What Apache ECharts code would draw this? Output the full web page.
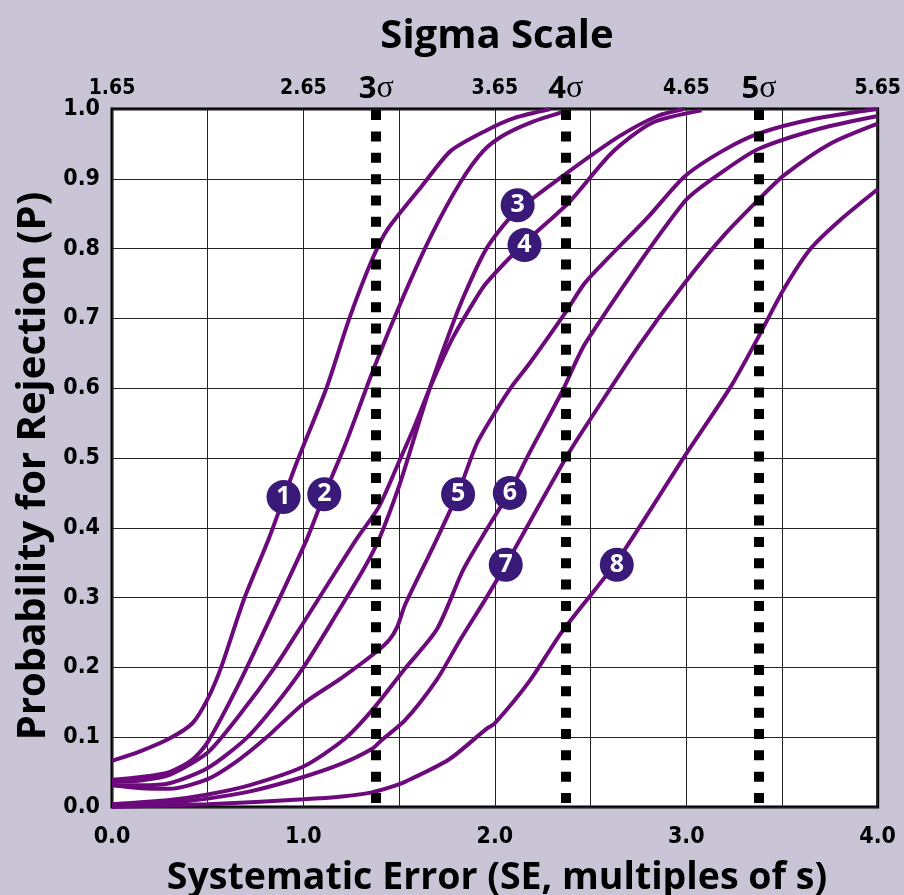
<!DOCTYPE html>
<html><head><meta charset="utf-8">
<script src="https://cdn.jsdelivr.net/npm/echarts@6/dist/echarts.min.js"></script>
<style>html,body{margin:0;padding:0;background:#c9c5d7;}#c{width:904px;height:895px;}</style>
</head><body><div id="c"></div>
<script>
// ---- data ----
const curve1 = [[0,0.066],[0.15,0.08],[0.3,0.098],[0.42,0.12],[0.5,0.155],[0.57,0.2],[0.69,0.298],[0.82,0.385],[0.96,0.49],[1.12,0.60],[1.24,0.70],[1.36,0.785],[1.44,0.828],[1.62,0.89],[1.77,0.94],[1.96,0.97],[2.1,0.987],[2.29,1.0]];
const curve2 = [[0,0.039],[0.15,0.043],[0.3,0.05],[0.42,0.068],[0.5,0.093],[0.664,0.177],[0.87,0.296],[1.017,0.383],[1.11,0.448],[1.22,0.52],[1.37,0.63],[1.52,0.73],[1.67,0.82],[1.82,0.895],[1.94,0.94],[2.05,0.963],[2.2,0.982],[2.37,0.997]];
const curve3 = [[0,0.031],[0.15,0.031],[0.3,0.034],[0.5,0.056],[0.7,0.098],[0.85,0.145],[1.0,0.2],[1.17,0.275],[1.317,0.342],[1.397,0.385],[1.5,0.46],[1.58,0.53],[1.66,0.60],[1.75,0.67],[1.835,0.73],[1.956,0.80],[2.1,0.85],[2.37,0.907],[2.645,0.96],[2.85,0.99],[2.99,1.0]];
const curve4 = [[0,0.036],[0.15,0.038],[0.3,0.046],[0.5,0.078],[0.664,0.131],[0.85,0.2],[1.0,0.264],[1.18,0.342],[1.28,0.385],[1.394,0.43],[1.5,0.495],[1.58,0.545],[1.66,0.60],[1.78,0.672],[1.904,0.73],[1.956,0.751],[2.155,0.808],[2.39,0.867],[2.61,0.937],[2.82,0.98],[3.08,0.998]];
const curve5 = [[0,0.031],[0.15,0.027],[0.3,0.026],[0.5,0.04],[0.65,0.065],[0.8,0.098],[1.0,0.148],[1.2,0.185],[1.38,0.222],[1.45,0.24],[1.49,0.258],[1.53,0.289],[1.63,0.346],[1.68,0.374],[1.808,0.45],[1.905,0.52],[2.0,0.565],[2.095,0.605],[2.18,0.635],[2.373,0.71],[2.474,0.752],[2.8,0.845],[2.99,0.903],[3.19,0.94],[3.38,0.965],[3.67,0.986],[4.0,1.0]];
const curve6 = [[0,0.004],[0.3,0.01],[0.5,0.018],[0.716,0.031],[1.0,0.058],[1.213,0.097],[1.357,0.138],[1.53,0.198],[1.698,0.255],[1.835,0.34],[1.956,0.397],[2.078,0.452],[2.18,0.507],[2.353,0.596],[2.474,0.665],[2.99,0.867],[3.2,0.912],[3.38,0.943],[3.7,0.972],[4.0,0.99]];
const curve7 = [[0,0.002],[0.3,0.006],[0.5,0.012],[0.716,0.022],[1.0,0.043],[1.2,0.062],[1.357,0.083],[1.405,0.095],[1.53,0.124],[1.698,0.183],[1.82,0.24],[1.956,0.30],[2.057,0.347],[2.386,0.507],[2.526,0.567],[2.75,0.66],[2.99,0.75],[3.2,0.82],[3.38,0.871],[3.51,0.905],[3.75,0.95],[4.0,0.979]];
const curve8 = [[0,0.0],[0.5,0.004],[1.0,0.011],[1.2,0.015],[1.357,0.021],[1.45,0.028],[1.53,0.036],[1.76,0.068],[1.956,0.112],[2.0,0.12],[2.18,0.18],[2.353,0.252],[2.637,0.352],[2.99,0.502],[3.234,0.603],[3.38,0.675],[3.51,0.742],[3.65,0.80],[3.8,0.84],[4.0,0.885]];
const curveNames = ['1','2','3','4','5','6','7','8'];
const labelPoints = [[0.896,0.444,'1'],[1.109,0.448,'2'],[2.119,0.862,'3'],[2.155,0.805,'4'],[1.808,0.448,'5'],[2.078,0.450,'6'],[2.057,0.347,'7'],[2.637,0.347,'8']];
const sigmaLinePositions = [1.38, 2.37, 3.38];
const sigmaLineNames = ['3','4','5'];
const bottomTickLabels = ['0.0','1.0','2.0','3.0','4.0'];
const topTickLabels = ['1.65','2.65','3.65','4.65','5.65'];
const yTickLabels = ['0.0','0.1','0.2','0.3','0.4','0.5','0.6','0.7','0.8','0.9','1.0'];
const titleText = 'Sigma Scale';
const xTitle = 'Systematic Error (SE, multiples of s)';
const yTitle = 'Probability for Rejection (P)';

// ---- styles ----
const NARROW = "'Liberation Sans Narrow','DejaVu Sans Condensed','Roboto',sans-serif";
const HEAD = "'Open Sans','Noto Sans',sans-serif";
const BG = '#c9c5d7';
const CURVE = '#6c0a7c';
const BADGE = '#3a1a78';

const chart = echarts.init(document.getElementById('c'), null, {renderer:'canvas'});
const curves = [curve1,curve2,curve3,curve4,curve5,curve6,curve7,curve8];
const series = curves.map((d,i)=>({
  name: curveNames[i], type:'line', data:d, showSymbol:false, smooth:0.25,
  clip:false, z:3, lineStyle:{color:CURVE, width:4}, emphasis:{disabled:true}
}));
series.push({
  type:'line', data:[], z:2, silent:true,
  markLine:{
    silent:true, symbol:'none', animation:false,
    lineStyle:{color:'#000', width:10, type:[10,11.34], dashOffset:17.34, cap:'butt'},
    label:{show:true, position:'end', distance:4,
      formatter:p=>'{n|'+p.name+'}{s|σ}',
      rich:{n:{fontSize:31, fontWeight:'bold', fontFamily:HEAD, color:'#000'},
            s:{fontSize:32, fontFamily:"'Liberation Serif','DejaVu Serif',serif", color:'#000'}}},
    data: sigmaLinePositions.map((v,i)=>({xAxis:v, name:sigmaLineNames[i]}))
  }
});
series.push({
  type:'scatter', z:5, data:labelPoints.map(p=>({value:[p[0],p[1]], name:p[2]})),
  symbol:'circle', symbolSize:34, itemStyle:{color:BADGE, opacity:1},
  label:{show:true, position:'inside', formatter:p=>p.name, color:'#fff', fontSize:25, fontWeight:'bold', fontFamily:HEAD},
  emphasis:{disabled:true}
});

chart.setOption({
  backgroundColor: BG,
  animation:false,
  grid:{left:112, right:22, top:109, bottom:88, show:true, backgroundColor:'#fff', borderColor:'#000', borderWidth:3, containLabel:false},
  xAxis:[{
    type:'value', min:0, max:4, interval:0.5, position:'bottom',
    axisLine:{show:false}, axisTick:{show:false},
    splitLine:{show:true, lineStyle:{color:'#222', width:1}},
    axisLabel:{margin:19, fontSize:23, fontWeight:'bold', fontFamily:NARROW, color:'#000',
      formatter:v=>(Math.abs(v-Math.round(v))<1e-6 ? bottomTickLabels[Math.round(v)] : '')}
  },{
    type:'value', min:0, max:4, interval:1, position:'top',
    axisLine:{show:false}, axisTick:{show:false}, splitLine:{show:false},
    axisLabel:{margin:10, fontSize:21, fontWeight:'bold', fontFamily:NARROW, color:'#000',
      formatter:v=>topTickLabels[Math.round(v)]}
  }],
  yAxis:{
    type:'value', min:0, max:1, interval:0.1,
    axisLine:{show:false}, axisTick:{show:false},
    splitLine:{show:true, lineStyle:{color:'#222', width:1}},
    axisLabel:{margin:12, fontSize:23, fontWeight:'bold', fontFamily:NARROW, color:'#000',
      formatter:v=>yTickLabels[Math.round(v*10)]}
  },
  graphic:[
    {type:'text', x:497, y:37, style:{text:titleText, fill:'#000', font:'bold 40px '+HEAD, textAlign:'center', textVerticalAlign:'middle'}},
    {type:'text', x:497, y:878, style:{text:xTitle, fill:'#000', font:'bold 37.5px '+HEAD, textAlign:'center', textVerticalAlign:'middle'}},
    {type:'text', x:34, y:466, rotation:Math.PI/2, style:{text:yTitle, fill:'#000', font:'bold 40px '+HEAD, textAlign:'center', textVerticalAlign:'middle'}}
  ],
  series: series
});
</script></body></html>
